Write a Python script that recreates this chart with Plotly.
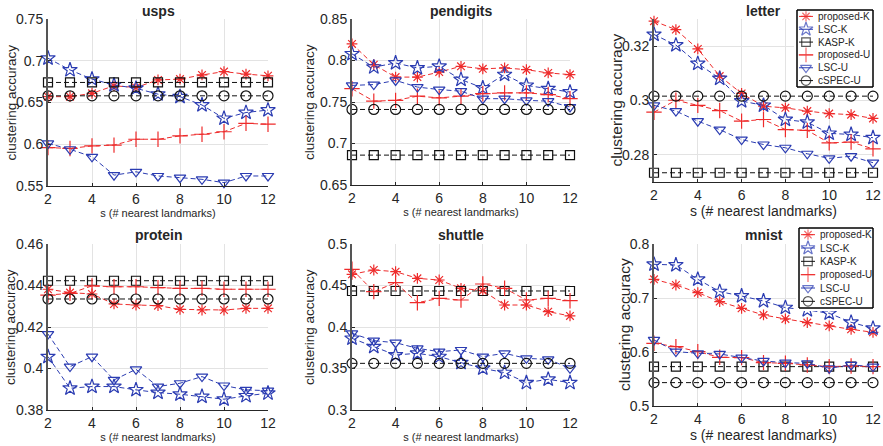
import plotly.graph_objects as go

# ---------------- data ----------------
S = [2, 3, 4, 5, 6, 7, 8, 9, 10, 11, 12]
SERIES = ["proposed-K", "LSC-K", "KASP-K", "proposed-U", "LSC-U", "cSPEC-U"]
TITLES = ["usps", "pendigits", "letter", "protein", "shuttle", "mnist"]
X_TICKS = [2, 4, 6, 8, 10, 12]

usps_proposed_K = [0.657, 0.657, 0.661, 0.670, 0.668, 0.677, 0.678, 0.683, 0.687, 0.684, 0.682]
usps_LSC_K = [0.703, 0.689, 0.678, 0.671, 0.667, 0.660, 0.657, 0.647, 0.631, 0.638, 0.641]
usps_KASP_K = [0.674, 0.674, 0.674, 0.674, 0.674, 0.674, 0.674, 0.674, 0.674, 0.674, 0.674]
usps_proposed_U = [0.596, 0.595, 0.598, 0.599, 0.606, 0.606, 0.610, 0.612, 0.615, 0.625, 0.624]
usps_LSC_U = [0.601, 0.594, 0.585, 0.563, 0.567, 0.562, 0.560, 0.558, 0.554, 0.562, 0.562]
usps_cSPEC_U = [0.658, 0.658, 0.658, 0.658, 0.658, 0.658, 0.658, 0.658, 0.658, 0.658, 0.658]

pendigits_proposed_K = [0.820, 0.795, 0.780, 0.780, 0.786, 0.793, 0.790, 0.791, 0.789, 0.785, 0.783]
pendigits_LSC_K = [0.808, 0.792, 0.797, 0.791, 0.793, 0.777, 0.767, 0.783, 0.770, 0.766, 0.762]
pendigits_KASP_K = [0.686, 0.686, 0.686, 0.686, 0.686, 0.686, 0.686, 0.686, 0.686, 0.686, 0.686]
pendigits_proposed_U = [0.766, 0.751, 0.752, 0.757, 0.755, 0.757, 0.760, 0.761, 0.761, 0.759, 0.754]
pendigits_LSC_U = [0.770, 0.771, 0.776, 0.768, 0.765, 0.763, 0.754, 0.754, 0.752, 0.751, 0.744]
pendigits_cSPEC_U = [0.741, 0.741, 0.741, 0.741, 0.741, 0.741, 0.741, 0.741, 0.741, 0.741, 0.741]

letter_proposed_K = [0.3292, 0.3261, 0.3190, 0.3090, 0.3026, 0.2979, 0.2973, 0.2961, 0.2952, 0.2948, 0.2934]
letter_LSC_K = [0.3243, 0.3204, 0.3136, 0.3081, 0.2998, 0.2982, 0.2930, 0.2920, 0.2879, 0.2875, 0.2863]
letter_KASP_K = [0.2734, 0.2734, 0.2734, 0.2734, 0.2734, 0.2734, 0.2734, 0.2734, 0.2734, 0.2734, 0.2734]
letter_proposed_U = [0.2957, 0.3001, 0.2982, 0.2963, 0.2924, 0.2930, 0.2893, 0.2890, 0.2844, 0.2847, 0.2822]
letter_LSC_U = [0.2982, 0.2961, 0.2924, 0.2893, 0.2856, 0.2838, 0.2826, 0.2804, 0.2787, 0.2795, 0.2771]
letter_cSPEC_U = [0.3016, 0.3016, 0.3016, 0.3016, 0.3016, 0.3016, 0.3016, 0.3016, 0.3016, 0.3016, 0.3016]

protein_proposed_K = [0.4382, 0.4366, 0.4359, 0.4311, 0.4306, 0.4303, 0.4285, 0.4282, 0.4282, 0.4290, 0.4290]
protein_LSC_K = [0.4057, 0.3905, 0.3913, 0.3913, 0.3897, 0.3884, 0.3876, 0.3865, 0.3852, 0.3868, 0.3881]
protein_KASP_K = [0.4423, 0.4423, 0.4423, 0.4423, 0.4423, 0.4423, 0.4423, 0.4423, 0.4423, 0.4423, 0.4423]
protein_proposed_U = [0.4354, 0.4362, 0.4398, 0.4394, 0.4394, 0.4390, 0.4386, 0.4386, 0.4382, 0.4382, 0.4382]
protein_LSC_U = [0.4166, 0.4009, 0.4057, 0.3945, 0.3996, 0.3913, 0.3929, 0.3961, 0.3918, 0.3897, 0.3893]
protein_cSPEC_U = [0.4335, 0.4335, 0.4335, 0.4335, 0.4335, 0.4335, 0.4335, 0.4335, 0.4335, 0.4335, 0.4335]

shuttle_proposed_K = [0.4635, 0.4687, 0.4667, 0.4586, 0.4566, 0.4466, 0.4438, 0.4265, 0.4265, 0.4185, 0.4133]
shuttle_LSC_K = [0.3863, 0.3763, 0.3663, 0.3683, 0.3643, 0.3570, 0.3502, 0.3450, 0.3329, 0.3370, 0.3329]
shuttle_KASP_K = [0.4434, 0.4434, 0.4434, 0.4434, 0.4434, 0.4434, 0.4434, 0.4434, 0.4434, 0.4434, 0.4434]
shuttle_proposed_U = [0.4695, 0.4426, 0.4534, 0.4293, 0.4345, 0.4325, 0.4518, 0.4466, 0.4325, 0.4345, 0.4317]
shuttle_LSC_U = [0.3924, 0.3835, 0.3811, 0.3743, 0.3703, 0.3723, 0.3643, 0.3683, 0.3622, 0.3610, 0.3502]
shuttle_cSPEC_U = [0.3562, 0.3562, 0.3562, 0.3562, 0.3562, 0.3562, 0.3562, 0.3562, 0.3562, 0.3562, 0.3562]

mnist_proposed_K = [0.7346, 0.7241, 0.7099, 0.6933, 0.6809, 0.6686, 0.6612, 0.6544, 0.6482, 0.6420, 0.6365]
mnist_LSC_K = [0.7624, 0.7611, 0.7346, 0.7118, 0.7037, 0.6945, 0.6822, 0.6778, 0.6717, 0.6550, 0.6439]
mnist_KASP_K = [0.5729, 0.5729, 0.5729, 0.5729, 0.5729, 0.5729, 0.5729, 0.5729, 0.5729, 0.5729, 0.5729]
mnist_proposed_U = [0.6161, 0.6100, 0.6007, 0.5902, 0.5896, 0.5803, 0.5791, 0.5760, 0.5729, 0.5742, 0.5729]
mnist_LSC_U = [0.6223, 0.6007, 0.5976, 0.5964, 0.5896, 0.5834, 0.5803, 0.5791, 0.5699, 0.5760, 0.5729]
mnist_cSPEC_U = [0.5433, 0.5433, 0.5433, 0.5433, 0.5433, 0.5433, 0.5433, 0.5433, 0.5433, 0.5433, 0.5433]

usps_yticks = [0.55, 0.6, 0.65, 0.7, 0.75]
usps_yticktext = ["0.55", "0.6", "0.65", "0.7", "0.75"]
pendigits_yticks = [0.65, 0.7, 0.75, 0.8, 0.85]
pendigits_yticktext = ["0.65", "0.7", "0.75", "0.8", "0.85"]
letter_yticks = [0.28, 0.30, 0.32]
letter_yticktext = ["0.28", "0.3", "0.32"]
protein_yticks = [0.38, 0.40, 0.42, 0.44, 0.46]
protein_yticktext = ["0.38", "0.4", "0.42", "0.44", "0.46"]
shuttle_yticks = [0.3, 0.35, 0.4, 0.45, 0.5]
shuttle_yticktext = ["0.3", "0.35", "0.4", "0.45", "0.5"]
mnist_yticks = [0.5, 0.6, 0.7, 0.8]
mnist_yticktext = ["0.5", "0.6", "0.7", "0.8"]

# ---------------- styles / layout ----------------
W, H = 883, 446
RED = "#ee2b2b"
BLUE = "#2b3cb2"
BLACK = "#111111"
FONT = "Liberation Sans, Arial, Helvetica, sans-serif"
AXC = "#262626"

STYLE = {
    "proposed-K": dict(color=RED, symbol="asterisk-open", size=9),
    "LSC-K": dict(color=BLUE, symbol="star-open", size=11),
    "KASP-K": dict(color=BLACK, symbol="square-open", size=9),
    "proposed-U": dict(color=RED, symbol="cross-thin-open", size=11),
    "LSC-U": dict(color=BLUE, symbol="triangle-down-open", size=10),
    "cSPEC-U": dict(color=BLACK, symbol="circle-open", size=10),
}

panels = [
    dict(series=[usps_proposed_K, usps_LSC_K, usps_KASP_K, usps_proposed_U, usps_LSC_U, usps_cSPEC_U],
         yr=[0.55, 0.75], yt=usps_yticks, ytt=usps_yticktext, px=(48, 268), py=(19, 186),
         xtf=11, ytf=13.5, ytx=11),
    dict(series=[pendigits_proposed_K, pendigits_LSC_K, pendigits_KASP_K, pendigits_proposed_U, pendigits_LSC_U, pendigits_cSPEC_U],
         yr=[0.65, 0.85], yt=pendigits_yticks, ytt=pendigits_yticktext, px=(352, 570), py=(19, 185),
         xtf=11, ytf=13.5, ytx=309),
    dict(series=[letter_proposed_K, letter_LSC_K, letter_KASP_K, letter_proposed_U, letter_LSC_U, letter_cSPEC_U],
         yr=[0.27, 0.33], yt=letter_yticks, ytt=letter_yticktext, px=(654, 873), py=(19, 182),
         xtf=14, ytf=15.5, ytx=616),
    dict(series=[protein_proposed_K, protein_LSC_K, protein_KASP_K, protein_proposed_U, protein_LSC_U, protein_cSPEC_U],
         yr=[0.38, 0.46], yt=protein_yticks, ytt=protein_yticktext, px=(48, 268), py=(244, 410),
         xtf=11, ytf=13.5, ytx=10),
    dict(series=[shuttle_proposed_K, shuttle_LSC_K, shuttle_KASP_K, shuttle_proposed_U, shuttle_LSC_U, shuttle_cSPEC_U],
         yr=[0.3, 0.5], yt=shuttle_yticks, ytt=shuttle_yticktext, px=(352, 570), py=(244, 410),
         xtf=11, ytf=13.5, ytx=309),
    dict(series=[mnist_proposed_K, mnist_LSC_K, mnist_KASP_K, mnist_proposed_U, mnist_LSC_U, mnist_cSPEC_U],
         yr=[0.5, 0.8], yt=mnist_yticks, ytt=mnist_yticktext, px=(654, 873), py=(244, 406),
         xtf=14, ytf=15.5, ytx=624),
]


def dom_x(a, b):
    return [a / W, b / W]


def dom_y(top, bottom):
    return [1 - bottom / H, 1 - top / H]


fig = go.Figure()
layout = dict(width=W, height=H, margin=dict(l=0, r=0, t=0, b=0, autoexpand=False),
              paper_bgcolor="white", plot_bgcolor="white", showlegend=False,
              font=dict(family=FONT, color=AXC))
annotations = []
shapes = []

for i, p in enumerate(panels):
    k = i + 1
    xa = "xaxis" if k == 1 else f"xaxis{k}"
    ya = "yaxis" if k == 1 else f"yaxis{k}"
    xr = "x" if k == 1 else f"x{k}"
    yr = "y" if k == 1 else f"y{k}"
    for name, vals in zip(SERIES, p["series"]):
        st = STYLE[name]
        fig.add_trace(go.Scatter(
            x=S, y=vals, name=name, mode="lines+markers", xaxis=xr, yaxis=yr,
            cliponaxis=False,
            line=dict(color=st["color"], width=1, dash="5px,3px"),
            marker=dict(symbol=st["symbol"], size=st["size"], color=st["color"],
                        line=dict(color=st["color"], width=1.2)),
        ))
    layout[xa] = dict(domain=dom_x(*p["px"]), anchor=yr, range=[2, 12],
                      tickvals=X_TICKS, ticktext=[str(v) for v in X_TICKS],
                      showgrid=True, gridcolor="#e3e3e3", gridwidth=1,
                      showline=True, linecolor=AXC, linewidth=1.2,
                      ticks="inside", ticklen=3, tickcolor=AXC,
                      tickfont=dict(size=14, family=FONT, color=AXC), zeroline=False,
                      title=dict(text="s (# nearest landmarks)", standoff=2,
                                 font=dict(size=p["xtf"], family=FONT, color=AXC)))
    layout[ya] = dict(domain=dom_y(*p["py"]), anchor=xr, range=p["yr"],
                      tickvals=p["yt"], ticktext=p["ytt"],
                      showgrid=True, gridcolor="#e3e3e3", gridwidth=1,
                      showline=True, linecolor="#555555", linewidth=2,
                      ticks="inside", ticklen=3, tickcolor=AXC,
                      tickfont=dict(size=14, family=FONT, color=AXC), zeroline=False)
    cx = (p["px"][0] + p["px"][1]) / 2 / W
    cy = 1 - (p["py"][0] + p["py"][1]) / 2 / H
    ty = 11 if i < 3 else 235
    annotations.append(dict(text=f"<b>{TITLES[i]}</b>", x=cx, y=1 - ty / H, xref="paper", yref="paper",
                            xanchor="center", yanchor="middle", showarrow=False,
                            font=dict(size=14, family=FONT, color=AXC)))
    # y-axis title
    annotations.append(dict(text="clustering accuracy", x=p["ytx"] / W, y=cy, xref="paper", yref="paper",
                            xanchor="center", yanchor="middle", textangle=-90, showarrow=False,
                            font=dict(size=p["ytf"], family=FONT, color=AXC)))

# ---------------- legends (letter & mnist) ----------------
legend_boxes = [(797, 873, 10, 87), (799, 873, 228, 308)]
PAD = 3  # px of padding around the legend frame
for j, (lx0, lx1, ly0, ly1) in enumerate(legend_boxes):
    k = 7 + j
    xa, ya, xr, yr = f"xaxis{k}", f"yaxis{k}", f"x{k}", f"y{k}"
    nser = len(SERIES)
    wpx, hpx = lx1 - lx0, ly1 - ly0
    px_x = 1.0 / wpx
    px_y = nser / hpx
    layout[xa] = dict(domain=dom_x(lx0 - PAD, lx1 + PAD), anchor=yr,
                      range=[-PAD * px_x, 1 + PAD * px_x], visible=False, fixedrange=True)
    layout[ya] = dict(domain=dom_y(ly0 - PAD, ly1 + PAD), anchor=xr,
                      range=[nser + PAD * px_y, -PAD * px_y], visible=False, fixedrange=True)
    # white, framed legend background
    fig.add_trace(go.Scatter(x=[0, 1, 1, 0, 0], y=[0, 0, nser, nser, 0], mode="lines", fill="toself",
                             fillcolor="white", line=dict(color="#000000", width=1), xaxis=xr, yaxis=yr,
                             hoverinfo="skip"))
    shapes.append(dict(type="rect", xref="paper", yref="paper", layer="above",
                       x0=lx0 / W, x1=lx1 / W, y0=1 - ly1 / H, y1=1 - ly0 / H,
                       line=dict(color="#000000", width=1)))
    sx0, sxm, sx1, tx = 2 / wpx, 9 / wpx, 16 / wpx, 19 / wpx
    for n, name in enumerate(SERIES):
        st = STYLE[name]
        yy = n + 0.5
        fig.add_trace(go.Scatter(x=[sx0, sxm, sx1], y=[yy, yy, yy], mode="lines+markers",
                                 xaxis=xr, yaxis=yr, cliponaxis=False, hoverinfo="skip",
                                 line=dict(color=st["color"], width=1),
                                 marker=dict(symbol=st["symbol"], size=[0, st["size"] * 0.95, 0],
                                             color=st["color"], line=dict(color=st["color"], width=1.2))))
        annotations.append(dict(text=name, x=tx, y=yy, xref=xr, yref=yr, xanchor="left", yanchor="middle",
                                showarrow=False, font=dict(size=10, family=FONT, color=AXC)))

layout["annotations"] = annotations
layout["shapes"] = shapes
fig.update_layout(**layout)
fig.write_html("out.html")
